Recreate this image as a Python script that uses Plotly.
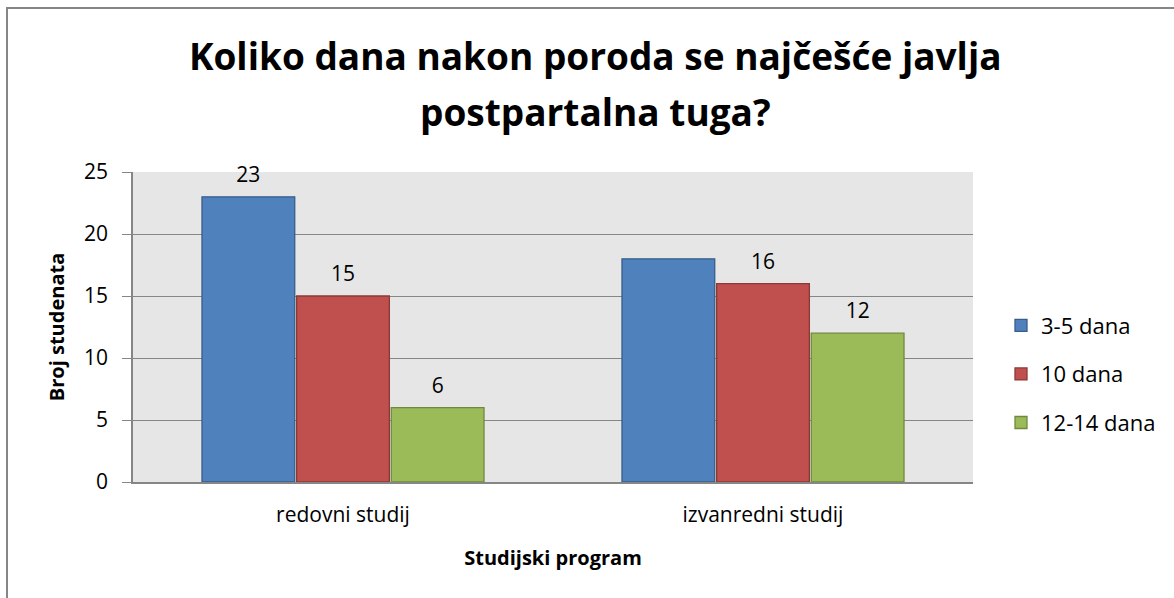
import plotly.graph_objects as go

categories = ["redovni studij", "izvanredni studij"]
series_names = ["3-5 dana", "10 dana", "12-14 dana"]
values_35 = [23, 18]
values_10 = [15, 16]
values_1214 = [6, 12]
labels_35 = ["23", ""]
labels_10 = ["15", "16"]
labels_1214 = ["6", "12"]
y_ticks = [0, 5, 10, 15, 20, 25]

fill_colors = ["#4F81BD", "#C0504D", "#9BBB59"]
line_colors = ["#385D8A", "#8C3836", "#71893F"]

FONT = "Open Sans"

fig = go.Figure()
series = list(zip(series_names, [values_35, values_10, values_1214],
                  [labels_35, labels_10, labels_1214], fill_colors, line_colors))
for i, (name, vals, labs, fc, lc) in enumerate(series):
    fig.add_trace(go.Bar(
        x=categories, y=vals, name=name,
        offsetgroup=str(i), legendgroup=str(i),
        marker=dict(color=fc, line=dict(color=lc, width=1.3)),
        hoverinfo="x+y+name",
    ))
for i, (name, vals, labs, fc, lc) in enumerate(series):
    fig.add_trace(go.Scatter(
        x=categories, y=vals, mode="markers+text",
        offsetgroup=str(i), showlegend=False, hoverinfo="skip",
        marker=dict(size=14, opacity=0),
        text=labs, textposition="top center",
        textfont=dict(family=FONT, size=21, color="#000000"),
        cliponaxis=False,
    ))

fig.update_layout(
    width=1174, height=598,
    margin=dict(l=133, r=201, t=172, b=116),
    paper_bgcolor="#FFFFFF",
    plot_bgcolor="#E6E6E6",
    barmode="group",
    scattermode="group",
    bargap=0.324,
    bargroupgap=0.02,
    font=dict(family=FONT, color="#000000"),
    title=dict(
        text="<b>Koliko dana nakon poroda se najčešće javlja</b>",
        x=0.507, xanchor="center", xref="container",
        y=(598 - 57) / 598, yanchor="middle", yref="container",
        font=dict(family=FONT, size=37, color="#000000"),
    ),
    annotations=[dict(
        text="<b>postpartalna tuga?</b>", xref="paper", yref="paper",
        x=(595 - 133) / 840, y=(482 - 112) / 310, xanchor="center", yanchor="middle",
        showarrow=False, font=dict(family=FONT, size=37, color="#000000"),
    )],
    legend=dict(
        x=(1001 - 133) / 840, xanchor="left", xref="paper",
        y=(482 - 374) / 310, yanchor="middle",
        font=dict(family=FONT, size=22),
        itemwidth=30, tracegroupgap=17,
        bgcolor="rgba(0,0,0,0)",
    ),
    showlegend=True,
    xaxis=dict(
        title=dict(text="<b>Studijski program</b>", font=dict(family=FONT, size=20), standoff=24),
        tickfont=dict(family=FONT, size=21),
        ticklabelstandoff=13,
        showline=True, linecolor="#868686", linewidth=1.5,
        ticks="", showgrid=False,
    ),
    yaxis=dict(
        title=dict(text="<b>Broj studenata</b>", font=dict(family=FONT, size=20), standoff=14),
        range=[0, 25], tickvals=y_ticks,
        tickfont=dict(family=FONT, size=21),
        ticklabelstandoff=10,
        showgrid=True, gridcolor="#868686", gridwidth=1.3,
        showline=True, linecolor="#868686", linewidth=1.5,
        ticks="outside", ticklen=9, tickcolor="#868686",
        zeroline=False,
    ),
    shapes=[dict(type="rect", xref="paper", yref="paper",
                 x0=(7 - 133) / 840, x1=(1190 - 133) / 840,
                 y0=(482 - 610) / 310, y1=(482 - 8) / 310,
                 line=dict(color="#868686", width=2), fillcolor="rgba(0,0,0,0)",
                 layer="below")],
)

fig.write_html("out.html", config={"displayModeBar": False},
               post_script="document.body.style.margin='0';document.body.style.overflow='hidden';")
